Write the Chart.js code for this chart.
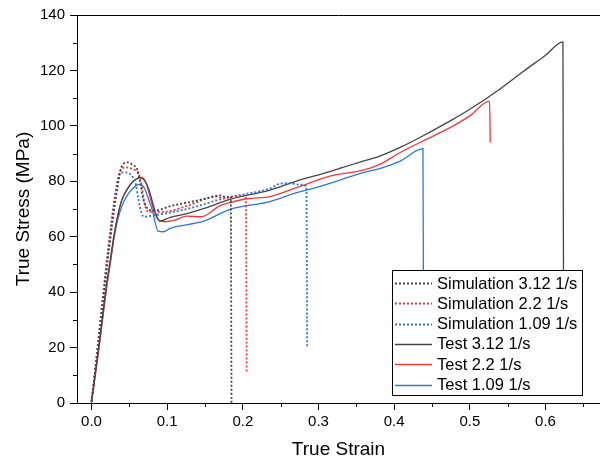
<!DOCTYPE html>
<html lang="en">
<head>
    <meta charset="utf-8">
    <script src="https://cdn.jsdelivr.net/npm/chart.js@4"></script>
    <title> True stress vs true strain </title>
    <style>
        body { margin: 0; background: #fff; }
        #wrap { width: 600px; height: 461px; }
    </style>
</head>
<body>
    <div id="wrap"><canvas id="c"></canvas></div>

    <script>
        // series values
        const sim312Strain = [0, 0.038, 0.043, 0.048, 0.055, 0.060, 0.064, 0.068, 0.073, 0.080, 0.088, 0.104, 0.130, 0.150, 0.170, 0.178, 0.184, 0.185];
        const sim312Stress = [0.5, 83.5, 86.5, 86.8, 85.8, 84.5, 80, 74, 70.5, 69.5, 69.6, 71, 72.5, 73.7, 74.9, 74.3, 74.5, 0];

        const sim22Strain = [0, 0.036, 0.040, 0.045, 0.055, 0.062, 0.066, 0.070, 0.075, 0.082, 0.104, 0.130, 0.165, 0.175, 0.185, 0.195, 0.204, 0.205];
        const sim22Stress = [0.5, 82, 84.5, 85, 84.3, 83, 79, 72, 69, 68.9, 69.3, 71.5, 74.5, 73.8, 74.5, 74.8, 74.5, 11];

        const sim109Strain = [0, 0.034, 0.038, 0.045, 0.053, 0.058, 0.062, 0.066, 0.070, 0.080, 0.104, 0.140, 0.170, 0.200, 0.236, 0.250, 0.262, 0.275, 0.284, 0.285];
        const sim109Stress = [0.5, 80, 83, 83.2, 82, 79.5, 73.5, 68.5, 67.2, 67.6, 68.7, 71, 73.5, 75.2, 77.4, 79.2, 79.3, 78.8, 78.2, 20];

        const test312Strain = [0, 0.01, 0.02, 0.025, 0.030, 0.035, 0.040, 0.047, 0.054, 0.060, 0.065, 0.070, 0.076, 0.082, 0.090, 0.104, 0.126, 0.150, 0.183, 0.236, 0.271, 0.300, 0.330, 0.359, 0.381, 0.410, 0.434, 0.474, 0.500, 0.540, 0.570, 0.600, 0.623, 0.624];
        const test312Stress = [0.5, 21, 43, 52, 61, 68, 73.2, 77, 79.6, 80.9, 81.3, 80.3, 77, 71, 65.6, 67, 68.3, 70.3, 73.5, 76.8, 80.1, 82.3, 84.8, 87.3, 89.1, 92.5, 95.8, 101.8, 106, 113.3, 119.5, 125.5, 130.3, 4];

        const test22Strain = [0, 0.01, 0.02, 0.025, 0.030, 0.035, 0.040, 0.047, 0.054, 0.060, 0.066, 0.072, 0.077, 0.083, 0.088, 0.097, 0.110, 0.126, 0.145, 0.170, 0.183, 0.205, 0.236, 0.271, 0.315, 0.359, 0.381, 0.408, 0.452, 0.478, 0.500, 0.526, 0.527];
        const test22Stress = [0, 20, 42, 51, 60.5, 68, 73.3, 77.2, 79.8, 81, 81.4, 79.5, 74.7, 69, 66.2, 65.4, 66, 67.4, 67.2, 71.2, 72.3, 73.7, 74.5, 77.7, 81.9, 84, 86.1, 90.4, 96.4, 100, 103.6, 108.9, 94];

        const test109Strain = [0, 0.01, 0.02, 0.025, 0.030, 0.035, 0.040, 0.047, 0.054, 0.060, 0.064, 0.070, 0.076, 0.080, 0.088, 0.095, 0.104, 0.148, 0.183, 0.236, 0.271, 0.300, 0.359, 0.381, 0.408, 0.438, 0.439];
        const test109Stress = [0.5, 21, 42, 51, 60, 66.5, 71, 74.8, 77.3, 78.6, 78.9, 77.5, 73, 69.9, 62, 61.8, 63, 65.6, 69.9, 72.7, 75.9, 78, 83.1, 84.6, 87.3, 91.8, 4];

        const seriesLabels = ['Simulation 3.12 1/s', 'Simulation 2.2 1/s', 'Simulation 1.09 1/s',
            'Test 3.12 1/s', 'Test 2.2 1/s', 'Test 1.09 1/s'];

        const xMajorTicks = [0, 0.1, 0.2, 0.3, 0.4, 0.5, 0.6];
        const xMinorTicks = [0.05, 0.15, 0.25, 0.35, 0.45, 0.55, 0.65];
        const yMinorTicks = [10, 30, 50, 70, 90, 110, 130];

        const grey = '#454545', red = '#f03a3a', blue = '#2a76e2';
        const FONT = "'Liberation Sans', Arial, sans-serif";

        function pts(xs, ys) {
            return xs.map((x, i) => ({ x: x, y: ys[i] }));
        }

        function makeSet(label, xs, ys, color, dotted) {
            return {
                label: label,
                data: pts(xs, ys),
                borderColor: color,
                backgroundColor: color,
                borderWidth: dotted ? 1.8 : 1.3,
                borderDash: dotted ? [2, 2] : [],
                pointRadius: 0,
                cubicInterpolationMode: 'monotone',
                fill: false
            };
        }

        const ds = [
            makeSet(seriesLabels[0], sim312Strain, sim312Stress, grey, true),
            makeSet(seriesLabels[1], sim22Strain, sim22Stress, red, true),
            makeSet(seriesLabels[2], sim109Strain, sim109Stress, blue, true),
            makeSet(seriesLabels[3], test312Strain, test312Stress, grey, false),
            makeSet(seriesLabels[4], test22Strain, test22Stress, red, false),
            makeSet(seriesLabels[5], test109Strain, test109Stress, blue, false)
        ];

        // minor ticks + top frame line
        const framePlugin = {
            id: 'frame',
            afterDraw(chart) {
                const ctx = chart.ctx, a = chart.chartArea;
                const xs = chart.scales.x, ys = chart.scales.y;
                ctx.save();
                ctx.strokeStyle = '#000';
                ctx.lineWidth = 1;
                ctx.beginPath();
                ctx.moveTo(a.left, Math.round(a.top) + 0.5);
                ctx.lineTo(a.right, Math.round(a.top) + 0.5);
                xMinorTicks.forEach(v => {
                    const px = Math.round(xs.getPixelForValue(v)) + 0.5;
                    ctx.moveTo(px, a.bottom);
                    ctx.lineTo(px, a.bottom + 4);
                });
                yMinorTicks.forEach(v => {
                    const py = Math.round(ys.getPixelForValue(v)) + 0.5;
                    ctx.moveTo(a.left - 4, py);
                    ctx.lineTo(a.left, py);
                });
                ctx.stroke();
                ctx.restore();
            }
        };

        // boxed legend in the lower right corner
        const legendPlugin = {
            id: 'boxLegend',
            afterDatasetsDraw(chart) {
                const ctx = chart.ctx;
                const bx = 392.5, by = 270.5, bw = 190, bh = 125;
                ctx.save();
                ctx.fillStyle = '#fff';
                ctx.fillRect(bx, by, bw, bh);
                ctx.strokeStyle = '#000';
                ctx.lineWidth = 1;
                ctx.strokeRect(bx, by, bw, bh);
                ctx.font = '16.5px ' + FONT;
                ctx.textBaseline = 'middle';
                ctx.fillStyle = '#000';
                chart.data.datasets.forEach((d, i) => {
                    const y = 283 + i * 20.3;
                    ctx.strokeStyle = d.borderColor;
                    ctx.lineWidth = d.borderWidth;
                    ctx.setLineDash(d.borderDash);
                    ctx.beginPath();
                    ctx.moveTo(395, Math.round(y) + 0.5);
                    ctx.lineTo(432, Math.round(y) + 0.5);
                    ctx.stroke();
                    ctx.setLineDash([]);
                    ctx.fillText(d.label, 437, y + 1);
                });
                ctx.restore();
            }
        };

        new Chart(document.getElementById('c').getContext('2d'), {
            type: 'line',
            data: { datasets: ds },
            plugins: [framePlugin, legendPlugin],
            options: {
                responsive: true,
                maintainAspectRatio: false,
                animation: false,
                layout: { padding: { top: 15, right: 0, left: 0, bottom: 0 } },
                plugins: {
                    legend: { display: false },
                    tooltip: { enabled: false }
                },
                scales: {
                    x: {
                        type: 'linear',
                        min: -0.0192,
                        max: 0.672,
                        afterBuildTicks(s) { s.ticks = xMajorTicks.map(v => ({ value: v })); },
                        afterFit(s) { s.height = 58; },
                        grid: { drawOnChartArea: false, tickLength: 7, tickColor: '#000' },
                        border: { color: '#000', width: 1 },
                        ticks: {
                            color: '#000',
                            padding: 3,
                            maxRotation: 0,
                            font: { family: FONT, size: 15 },
                            callback: v => Number(v).toFixed(1)
                        },
                        title: {
                            display: true,
                            text: 'True Strain',
                            color: '#000',
                            font: { family: FONT, size: 19 },
                            padding: { top: 0, bottom: 0 }
                        }
                    },
                    y: {
                        min: 0,
                        max: 140,
                        afterFit(s) { s.width = 77; },
                        grid: { drawOnChartArea: false, tickLength: 7, tickColor: '#000' },
                        border: { color: '#000', width: 1 },
                        ticks: {
                            stepSize: 20,
                            color: '#000',
                            padding: 5,
                            font: { family: FONT, size: 15 }
                        },
                        title: {
                            display: true,
                            text: 'True Stress (MPa)',
                            color: '#000',
                            font: { family: FONT, size: 19 },
                            padding: { top: 12, bottom: 0 }
                        }
                    }
                }
            }
        });
    </script>
</body>
</html>
